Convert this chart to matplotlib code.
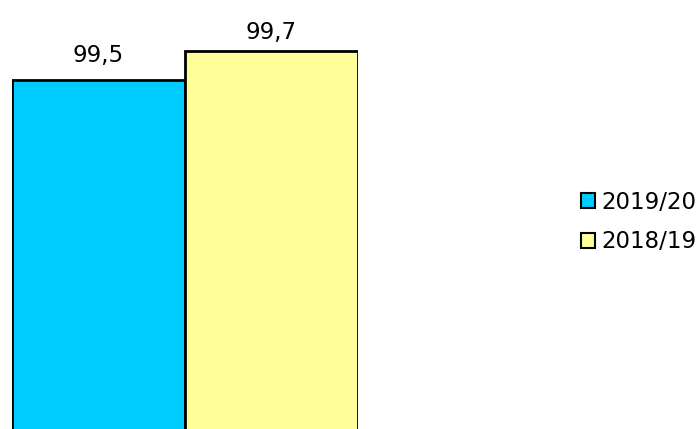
import matplotlib.pyplot as plt
from matplotlib.patches import Patch

plt.rcParams['font.family'] = ['DejaVu Sans']

series = ['2019/20', '2018/19']
values = [99.5, 99.7]
labels = ['99,5', '99,7']
colors = ['#00CCFF', '#FFFF99']

fig = plt.figure(figsize=(7, 4.29), dpi=100)
ax = fig.add_axes([12 / 700, 0, 346 / 700, 1])

x = [0, 1]
ax.bar(x, values, width=1.0, color=colors, edgecolor='black', linewidth=2)

# label gap above each bar (points)
offsets = [13, 9]
for xi, v, lab, off in zip(x, values, labels, offsets):
    ax.annotate(lab, (xi, v), xytext=(0, off), textcoords='offset points',
                ha='center', va='baseline', fontsize=16.5)

ax.set_xlim(-0.5, 1.5)
ax.set_ylim(97.093, 100.052)
ax.axis('off')

handles = [Patch(facecolor=c, edgecolor='black', linewidth=1.5) for c in colors]
fig.legend(handles, series, loc='center left', bbox_to_anchor=(581 / 700, 0.4825),
           frameon=False, fontsize=16.5, handlelength=0.62, handleheight=0.62,
           handletextpad=0.25, labelspacing=0.72, borderpad=0, borderaxespad=0)

fig.savefig('out.png', dpi=100)
